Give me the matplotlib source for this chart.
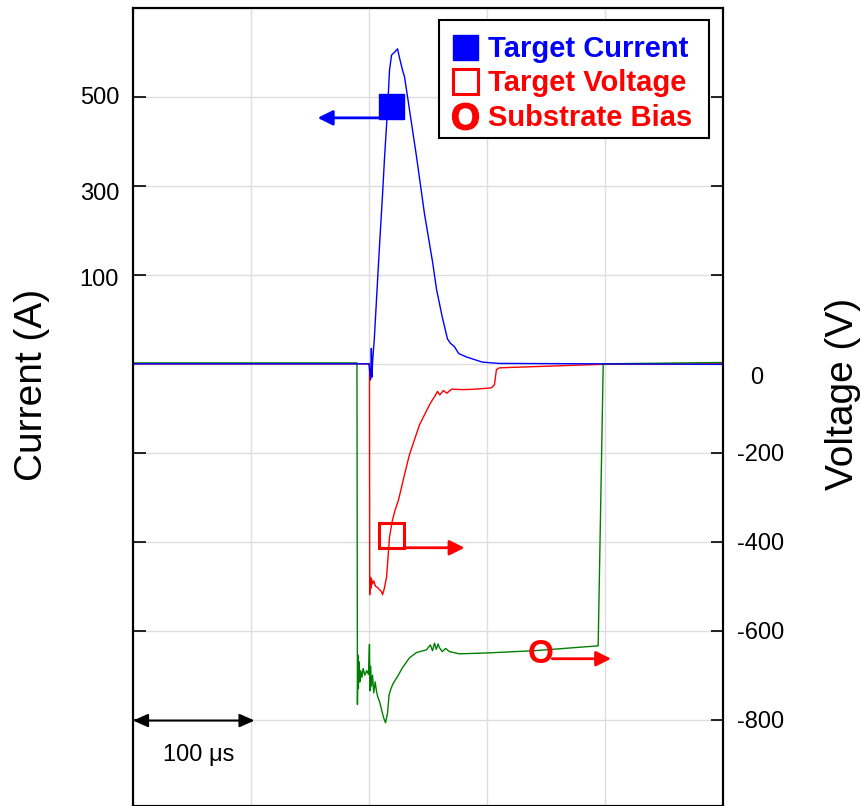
import numpy as np
import matplotlib.pyplot as plt
from matplotlib.lines import Line2D
from matplotlib.patches import Rectangle
from matplotlib.ticker import MultipleLocator
from matplotlib.transforms import ScaledTranslation

plt.rcParams['font.family'] = ['Liberation Sans', 'DejaVu Sans']
plt.rcParams['mathtext.fontset'] = 'custom'
plt.rcParams['mathtext.bf'] = 'Liberation Sans:bold'

# time in microseconds
t_current = [0, 200, 201.4, 202, 202.6, 203, 204.5, 206.4, 209, 211.5, 213.2, 215.7,
             217.4, 219.1, 221.7, 224.2, 225.9, 228.4, 230.1, 234.3, 240.3, 247, 251.3,
             254, 257.2, 262, 266.5, 269, 272.4, 276, 282.6, 296, 310, 500]
current = [0, 0, -30, 18, -25, 2, 29, 76, 179, 295, 372, 470,
           552, 583, 589, 596, 577, 552, 538, 470, 372, 249, 179,
           135, 87, 55, 29, 24, 20, 12, 8, 2, 0.5, -1]

t_target = [0, 200.4, 200.6, 201, 201.5, 202, 203, 204, 205.5, 207.3, 209, 210.5, 211.5,
            213, 214.9, 217.4, 219.9, 222, 225, 230.1, 234.3, 242.8, 251.3, 254, 256, 258,
            260, 263, 266, 270, 280, 290, 303.7, 306.3, 308, 310.5, 398.5, 500]
v_target = [0, 0, -519, -480, -505, -482, -495, -488, -500, -503, -508, -512, -519,
            -505, -479, -389, -351, -330, -306, -249, -204, -137, -92, -80, -72, -62,
            -70, -60, -66, -57, -58, -57, -54, -47, -13, -9, -1, 0]

t_bias = [0, 189.8, 190.2, 190.6, 191, 191.6, 192.2, 193, 194, 195, 196.5, 198, 199.5,
          200.4, 200.8, 201.3, 202, 203, 204, 205.2, 206.3, 207.3, 209, 210.7, 212.3, 214,
          215.7, 217, 218.3, 220, 222, 224.2, 228.4, 234.3, 240.3, 248.7, 252, 253.8,
          255.5, 257, 258.5, 259.7, 262, 265, 268.2, 276.6, 300, 340, 394.2, 398.5, 500]
v_bias = [2, 2, -766, -655, -730, -670, -715, -690, -705, -685, -700, -690, -698,
          -631, -735, -680, -725, -700, -740, -715, -735, -748, -760, -778, -795, -807,
          -785, -745, -733, -721, -712, -703, -683, -661, -649, -643, -632, -645,
          -628, -642, -630, -638, -647, -640, -647, -652, -650, -645, -634, 0, 3]

labels = ['Target Current', 'Target Voltage', 'Substrate Bias']
volt_ticks = [-800, -600, -400, -200, 0, 200, 400, 600]
volt_ticklabels = ['-800', '-600', '-400', '-200', '0', '', '', '']
amp_ticks = [100, 300, 500]

# left axis labels sit on the voltage grid, not evenly spaced in amps
cal_amps = [-1000, 0, 100, 300, 500, 1000]
cal_volts = [-1200, 0, 193, 387, 604, 1147]


def amps_to_grid(a):
    return np.interp(a, cal_amps, cal_volts)


def grid_to_amps(v):
    return np.interp(v, cal_volts, cal_amps)


fig = plt.figure(figsize=(8.62, 8.06), dpi=100)
ax = fig.add_axes([133 / 862, 0.5 / 806, 590 / 862, 797.5 / 806])
ax_i = ax.twinx()

vlim = (-993, 800)
ax.set_xlim(0, 500)
ax.set_ylim(*vlim)

ax.plot(t_target, v_target, color='#ff0000', lw=1.0)
ax.plot(t_bias, v_bias, color='#008000', lw=1.0)

ax_i.set_yscale('function', functions=(amps_to_grid, grid_to_amps))
ax_i.plot(t_current, current, color='#0000ff', lw=1.0)
ax_i.set_ylim(grid_to_amps(vlim[0]), grid_to_amps(vlim[1]))

# voltage axis on the right, its tick marks mirrored on the left spine
ax.yaxis.tick_right()
ax.yaxis.set_label_position('right')
ax.set_yticks(volt_ticks)
ax.set_yticklabels(volt_ticklabels)
ax.tick_params(axis='y', which='major', left=True, right=True, labelleft=False,
               labelright=True, direction='in', length=9, width=1.2, labelsize=17, pad=10)
ax.yaxis.set_minor_locator(MultipleLocator(200))
ax.xaxis.set_major_locator(MultipleLocator(100))
ax.tick_params(which='minor', length=0)
ax.tick_params(axis='x', length=0, labelbottom=False)
ax.grid(which='both', color='#dedede', lw=1)
ax.set_axisbelow(True)
ax.set_ylabel('Voltage (V)', fontsize=28)
ax.yaxis.set_label_coords(1.173, 0.516)

# the "0" label sits a bit lower and has no tick mark
zero_tick = ax.yaxis.get_major_ticks()[volt_ticks.index(0)]
zero_tick.tick1line.set_visible(False)
zero_tick.tick2line.set_visible(False)
zero_tick.label2.set_transform(zero_tick.label2.get_transform()
                               + ScaledTranslation(0.13, -0.12, fig.dpi_scale_trans))

# current axis on the left (labels only, marks come from the voltage ticks)
ax_i.yaxis.tick_left()
ax_i.yaxis.set_label_position('left')
ax_i.set_yticks(amp_ticks)
ax_i.set_yticklabels([str(a) for a in amp_ticks])
ax_i.tick_params(axis='y', which='both', right=False, direction='in', length=0,
                 labelsize=17, pad=10)
ax_i.yaxis.set_minor_locator(plt.NullLocator())
ax_i.set_ylabel('Current (A)', fontsize=28)
ax_i.yaxis.set_label_coords(-0.141, 0.527)

for a in (ax, ax_i):
    for s in a.spines.values():
        s.set_linewidth(1.5)

# markers + arrows pointing to the axes
ax_i.plot([218.7], [477], 's', ms=18, color='#0000ff', zorder=5)
ax_i.annotate('', xy=(156.5, 453), xytext=(208.1, 453),
              arrowprops=dict(arrowstyle='-|>,head_length=0.9,head_width=0.45',
                              color='#0000ff', lw=2, mutation_scale=10,
                              shrinkA=0, shrinkB=0))
ax.plot([218.3], [-385], 's', ms=18, mfc='none', mec='#ff0000', mew=2.2, zorder=5)
ax.annotate('', xy=(281, -413.5), xytext=(230.1, -413.5),
            arrowprops=dict(arrowstyle='-|>,head_length=0.9,head_width=0.45',
                            color='#ff0000', lw=2, mutation_scale=10,
                            shrinkA=0, shrinkB=0))
ax.text(345.2, -654, 'O', color='#ff0000', fontsize=24, fontweight='bold',
        ha='center', va='center', zorder=5)
ax.annotate('', xy=(405.2, -663), xytext=(355.3, -663),
            arrowprops=dict(arrowstyle='-|>,head_length=0.9,head_width=0.45',
                            color='#ff0000', lw=2, mutation_scale=10,
                            shrinkA=0, shrinkB=0))

# 100 us scale bar
ax.annotate('', xy=(0, -802), xytext=(103, -802),
            arrowprops=dict(arrowstyle='<|-|>,head_length=0.9,head_width=0.4',
                            color='black', lw=1.5, mutation_scale=10,
                            shrinkA=0, shrinkB=0))
ax.text(56, -879, '100 μs', fontsize=17, ha='center', va='center')

# legend: own frame so the box can be wider than the text
box = Rectangle((0.5186, 0.837), 0.4577, 0.148, transform=ax_i.transAxes,
                facecolor='white', edgecolor='black', lw=1.5, zorder=8)
ax_i.add_patch(box)
handles = [
    Line2D([], [], ls='none', marker='s', ms=18, color='#0000ff'),
    Line2D([], [], ls='none', marker='s', ms=18, mfc='none', mec='#ff0000', mew=2.2),
    Line2D([], [], ls='none', marker=r'$\mathbf{O}$', ms=19, color='#ff0000'),
]
leg = ax_i.legend(handles, labels, loc='upper left', bbox_to_anchor=(0.5186, 0.982),
                  prop=dict(weight='bold', size=21), frameon=False, borderpad=0.43,
                  handlelength=0.92, handletextpad=0.33, labelspacing=0.22,
                  borderaxespad=0)
leg.set_zorder(9)
for txt, c in zip(leg.get_texts(), ['#0000ff', '#ff0000', '#ff0000']):
    txt.set_color(c)

fig.savefig('out.png', dpi=100)
